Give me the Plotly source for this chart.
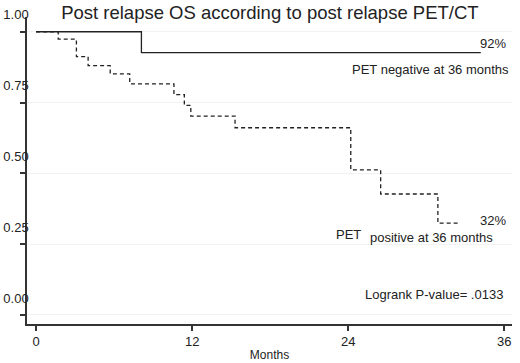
import plotly.graph_objects as go

# PET negative (solid)
neg_months = [0, 8.1, 34.2]
neg_surv = [1.0, 0.926, 0.926]

# PET positive (dashed)
pos_months = [0, 1.7, 3.1, 4.0, 5.7, 7.2, 10.6, 11.4, 11.9, 15.3, 24.2, 26.5, 30.9, 32.6]
pos_surv = [1.0, 0.974, 0.912, 0.880, 0.851, 0.816, 0.778, 0.740, 0.702, 0.661, 0.512, 0.427, 0.324, 0.324]

x_ticks = [0, 12, 24, 36]
y_ticks = [0.0, 0.25, 0.5, 0.75, 1.0]
y_tick_labels = ["0.00", "0.25", "0.50", "0.75", "1.00"]

FONT = "Liberation Sans, Arial, sans-serif"
TXT = "#222222"

fig = go.Figure()
fig.add_trace(go.Scatter(x=neg_months, y=neg_surv, mode="lines", line_shape="hv",
                         line=dict(color="#222222", width=1.3), showlegend=False))
fig.add_trace(go.Scatter(x=pos_months, y=pos_surv, mode="lines", line_shape="hv",
                         line=dict(color="#222222", width=1.3, dash="4px,3px"), showlegend=False))

annots = [
    dict(x=35.1, y=0.96, text="92%"),
    dict(x=30.3, y=0.868, text="PET negative at 36 months"),
    dict(x=35.1, y=0.332, text="32%"),
    dict(x=24.0, y=0.285, text="PET"),
    dict(x=30.4, y=0.275, text="positive at 36 months"),
    dict(x=30.6, y=0.071, text="Logrank P-value= .0133"),
]
for a in annots:
    fig.add_annotation(x=a["x"], y=a["y"], text=a["text"], showarrow=False,
                       xref="x", yref="y", font=dict(family=FONT, size=13, color=TXT))

fig.update_layout(
    width=520, height=363,
    margin=dict(l=27, r=8, t=17, b=39, autoexpand=False),
    paper_bgcolor="white", plot_bgcolor="white",
    font=dict(family=FONT, color=TXT),
    title=dict(text="Post relapse OS according to post relapse PET/CT",
               x=0.519, xanchor="center", y=0.965, yanchor="middle",
               font=dict(family=FONT, size=18.5, color=TXT)),
    xaxis=dict(range=[-0.7, 36.6], tickvals=x_ticks, ticks="outside", ticklen=5,
               tickwidth=1.5, tickcolor="#333333", showgrid=False, zeroline=False,
               showline=True, linecolor="#333333", linewidth=1.5, automargin=False,
               tickfont=dict(family=FONT, size=13, color=TXT),
               title=dict(text="Months", font=dict(family=FONT, size=12, color=TXT), standoff=2)),
    yaxis=dict(range=[-0.032, 1.052], tickvals=y_ticks, ticktext=y_tick_labels,
               ticks="outside", ticklen=5, tickwidth=1.5, tickcolor="#333333",
               showgrid=True, gridcolor="#f2f2f2", gridwidth=1, zeroline=False,
               showline=True, linecolor="#333333", linewidth=1.5, automargin=False,
               tickfont=dict(family=FONT, size=13, color=TXT),
               ticklabelshift=-17, ticklabelstandoff=-11),
)

fig.write_html("out.html", config={"displayModeBar": False},
               post_script="document.body.style.margin='0';")
